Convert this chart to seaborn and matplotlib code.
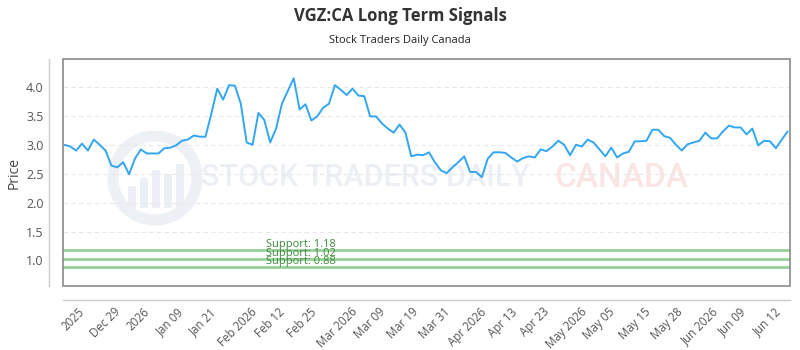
import numpy as np
import pandas as pd
import seaborn as sns
import matplotlib
matplotlib.use("Agg")
import matplotlib.pyplot as plt
from matplotlib.patches import Rectangle, Circle
from matplotlib.transforms import IdentityTransform, blended_transform_factory

# values
price = [
    3.00, 2.97, 2.90, 3.02, 2.90, 3.09, 3.00, 2.90, 2.64, 2.61, 2.70, 2.49, 2.76, 2.92, 2.85, 2.85, 2.85, 2.94, 2.95, 2.99, 3.07,
    3.09, 3.16, 3.14, 3.14, 3.54, 3.97, 3.78, 4.03, 4.02, 3.71, 3.04, 3.00, 3.55, 3.43, 3.04, 3.28, 3.71, 3.93, 4.15, 3.61,
    3.70, 3.42, 3.49, 3.64, 3.71, 4.03, 3.95, 3.86, 3.97, 3.85, 3.84, 3.49, 3.49, 3.37, 3.28, 3.21, 3.35, 3.21, 2.80, 2.83, 2.82,
    2.87, 2.70, 2.56, 2.51, 2.61, 2.70, 2.80, 2.53, 2.53, 2.44, 2.76, 2.87, 2.87, 2.86, 2.78, 2.71, 2.77, 2.80, 2.78, 2.92,
    2.89, 2.97, 3.07, 3.00, 2.82, 3.00, 2.97, 3.09, 3.04, 2.92, 2.80, 2.95, 2.78, 2.85, 2.88, 3.06, 3.06, 3.07, 3.26, 3.26, 3.15,
    3.12, 3.00, 2.90, 3.01, 3.04, 3.07, 3.21, 3.11, 3.11, 3.23, 3.33, 3.30, 3.30, 3.18, 3.28, 2.99, 3.07, 3.06, 2.94, 3.09, 3.23,
]
tick_labels = ["2025", "Dec 29", "2026", "Jan 09", "Jan 21", "Feb 2026", "Feb 12", "Feb 25",
               "Mar 2026", "Mar 09", "Mar 19", "Mar 31", "Apr 2026", "Apr 13", "Apr 23",
               "May 2026", "May 05", "May 15", "May 28", "Jun 2026", "Jun 09", "Jun 12"]
tick_idx = [1.5, 7, 12.5, 18, 23.5, 29.5, 35, 40.5, 46.5, 52, 57.5, 63, 68.5, 74.5, 80, 85.5, 91, 97, 102.5, 108, 113.5, 119.5]
supports = [1.18, 1.02, 0.88]

df = pd.DataFrame({"idx": np.arange(len(price)), "price": price})

sns.set_theme(style="white")
plt.rcParams["font.family"] = ["Open Sans", "DejaVu Sans"]

fig = plt.figure(figsize=(8, 3.5), dpi=100)
ax = fig.add_axes([0.079, 0.183, 0.9085, 0.648])
ax.set_facecolor("none")

# watermark behind the axes (logo ring with small bars, then the wordmark)
px = IdentityTransform()
fig.add_artist(Circle((155, 172), 42, transform=px, fill=False, ec="#edf0f5", lw=8, zorder=-1))
for bx, bh in [(128, 22), (140, 30), (152, 38), (164, 34), (176, 44)]:
    fig.add_artist(Rectangle((bx, 142), 8, bh, transform=px, fc="#eceff5", ec="none", zorder=-1))
wm_kw = dict(transform=px, ha="center", va="center", zorder=-1, family="Roboto", fontweight="medium")
fig.text(365, 172, "STOCK TRADERS DAILY", fontsize=22, color="#eceff4", **wm_kw)
fig.text(621, 172, "CANADA", fontsize=24, color="#fbe4e4", **wm_kw)

sns.lineplot(data=df, x="idx", y="price", ax=ax, color="#33a6f2", lw=1.4, zorder=3)

for s in supports:
    ax.axhline(s, color="#97d097", lw=2, zorder=2)
    ax.text(0.279, s + 0.01, f"Support: {s:.2f}", color="#3d8a3d", fontsize=8,
            transform=blended_transform_factory(ax.transAxes, ax.transData),
            va="bottom", ha="left", zorder=4)

ax.set_xlim(-0.2, len(price) - 0.6)
ax.set_ylim(0.56, 4.48)
ax.set_yticks([1.0, 1.5, 2.0, 2.5, 3.0, 3.5, 4.0])
ax.set_yticklabels([f"{v:.1f}" for v in ax.get_yticks()])
ax.yaxis.grid(True, color="#e8e8e8", ls=(0, (4, 3)), lw=0.8)
ax.set_axisbelow(True)

ax.set_xticks(tick_idx)
ax.set_xticklabels(tick_labels)
ax.tick_params(axis="both", length=0, labelcolor="#555555")
ax.tick_params(axis="y", pad=4, labelsize=9)
ax.tick_params(axis="x", pad=4, labelsize=8.3, labelrotation=45)
plt.setp(ax.get_xticklabels(), ha="right", rotation_mode="anchor")

ax.set_xlabel("")
ax.set_ylabel("Price", color="#444444", fontsize=10, labelpad=3)

sns.despine(ax=ax, offset=10)
for side in ["left", "bottom"]:
    ax.spines[side].set_color("#cccccc")
    ax.spines[side].set_linewidth(1)
ax.add_patch(Rectangle((0, 0), 1, 1, transform=ax.transAxes, fill=False,
                       ec="#8a8a8a", lw=1.2, zorder=5, clip_on=False))

fig.text(0.5, 0.955, "VGZ:CA Long Term Signals", ha="center", va="center",
         fontsize=12, fontweight="bold", color="#333333")
fig.text(0.5, 0.885, "Stock Traders Daily Canada", ha="center", va="center",
         fontsize=8, color="#222222")

fig.savefig("out.png", dpi=100, facecolor="white")
